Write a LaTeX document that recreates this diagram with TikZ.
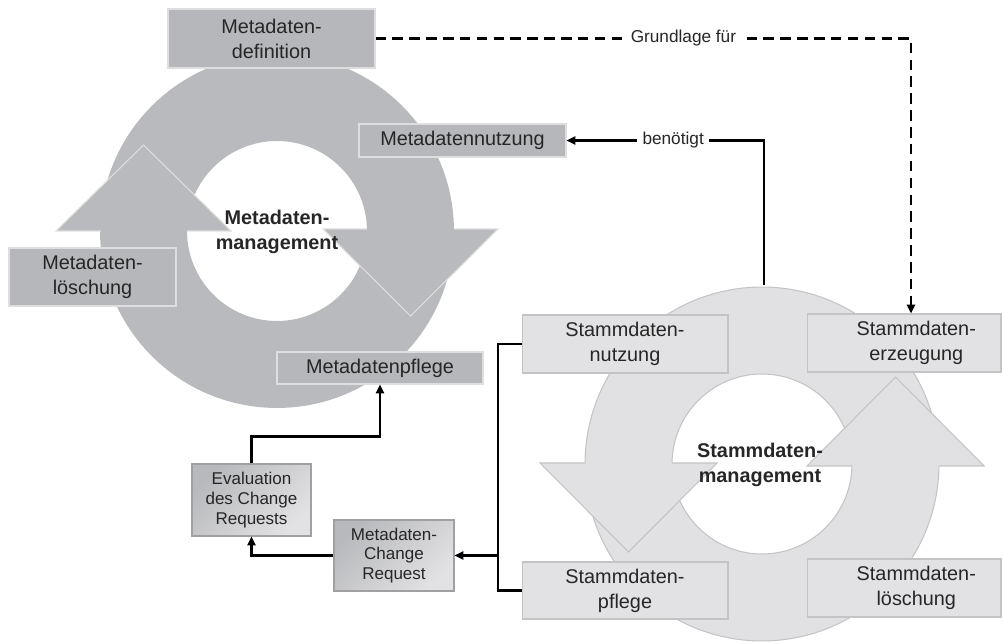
\documentclass[tikz,border=0pt]{standalone}
\usepackage{fontspec}
\setmainfont{Liberation Sans}
\usetikzlibrary{arrows.meta}
\definecolor{ringA}{HTML}{B9BABD}
\definecolor{boxA}{HTML}{B6B7BA}
\definecolor{edgeA}{HTML}{DEDEDF}
\definecolor{ringB}{HTML}{E1E1E3}
\definecolor{edgeB}{HTML}{C4C4C6}
\definecolor{boxB}{HTML}{E2E2E4}
\definecolor{txt}{HTML}{262626}
\definecolor{gradA}{HTML}{B8B9BC}
\definecolor{gradB}{HTML}{E2E2E4}
\definecolor{gradEdge}{HTML}{A0A0A2}
\begin{document}
\begin{tikzpicture}[x=0.02cm,y=-0.02cm,
  every node/.style={text=txt, font=\fontsize{11.3}{14.2}\selectfont, align=center, inner sep=0pt},
  darkbox/.style={fill=boxA, draw=edgeA, line width=0.6pt},
  lightbox/.style={fill=boxB, draw=edgeB, line width=0.6pt},
  shadebox/.style={top color=gradA, bottom color=gradB, shading angle=45, draw=gradEdge, line width=0.6pt, font=\fontsize{9.7}{11.3}\selectfont},
  conn/.style={line width=1.4pt, draw=black},
  tip/.style={-{Triangle[length=5pt,width=4.6pt]}},
  lbl/.style={fill=white, inner xsep=3pt, inner ysep=1.5pt, font=\fontsize{9.8}{12}\selectfont},
  bold/.style={font=\bfseries\fontsize{11.3}{14.2}\selectfont, text=black!85},
]
\useasboundingbox (0,0) rectangle (1003,644);

% ---------- Metadaten cycle ----------
\fill[ringA, even odd rule] (277,231) circle[radius=3.54cm] (277,231) circle[radius=1.8cm];
\fill[ringA] (56,231) -- (143.5,145) -- (231,231) -- cycle;
\draw[edgeA, line width=0.6pt] (101,231) -- (56,231) -- (143.5,145) -- (231,231) -- (187,231);
\fill[ringA] (323,229) -- (410.5,316) -- (498,229) -- cycle;
\draw[edgeA, line width=0.6pt] (367,229) -- (323,229) -- (410.5,316) -- (498,229) -- (454,229);

\node[darkbox, minimum width=4.14cm, minimum height=1.18cm] (mdef) at (271.5,38.5) {Metadaten-\\definition};
\node[darkbox, minimum width=4.14cm, minimum height=0.66cm] (mnutz) at (462.5,140.5) {Metadatennutzung};
\node[darkbox, minimum width=3.34cm, minimum height=1.16cm] (mloe) at (92.5,277) {Metadaten-\\löschung};
\node[darkbox, minimum width=4.12cm, minimum height=0.64cm] (mpfl) at (380,368) {Metadatenpflege};
\node[bold] (mmgmt) at (277,232) {Metadaten-\\management};

% ---------- Stammdaten cycle ----------
\fill[ringB, even odd rule] (762,464) circle[radius=3.54cm] (762,464) circle[radius=1.8cm];
\draw[edgeB, line width=0.6pt] (762,464) circle[radius=3.54cm] (762,464) circle[radius=1.8cm];
\fill[ringB] (540,463) -- (628.5,552) -- (717,463) -- cycle;
\draw[edgeB, line width=0.6pt] (585,463) -- (540,463) -- (628.5,552) -- (717,463) -- (672,463);
\fill[ringB] (807,466) -- (895.5,377) -- (984,466) -- cycle;
\draw[edgeB, line width=0.6pt] (852,466) -- (807,466) -- (895.5,377) -- (984,466) -- (939,466);

\node[lightbox, minimum width=4.12cm, minimum height=1.16cm] (snutz) at (625,344) {Stammdaten-\\nutzung};
\node[lightbox, minimum width=3.88cm, minimum height=1.16cm] (serz) at (904,343) {\hspace*{14pt}Stammdaten-\\\hspace*{14pt}erzeugung};
\node[lightbox, minimum width=4.12cm, minimum height=1.14cm] (spfl) at (625,590.5) {Stammdaten-\\pflege};
\node[lightbox, minimum width=3.88cm, minimum height=1.16cm] (sloe) at (904,588) {\hspace*{14pt}Stammdaten-\\\hspace*{14pt}löschung};
\node[bold] (smgmt) at (760,465) {Stammdaten-\\management};

% ---------- change request boxes ----------
\node[shadebox, minimum width=2.38cm, minimum height=1.44cm] (eval) at (251.5,500) {Evaluation\\des Change\\Requests};
\node[shadebox, minimum width=2.4cm, minimum height=1.42cm] (mcr) at (394,555.5) {Metadaten-\\Change\\Request};

% ---------- connectors ----------
\coordinate (gcorner) at (911,38.5);
\coordinate (stop) at (764,285);
\coordinate (brk) at (498,344);

\draw[conn, dash pattern=on 6pt off 3.6pt, tip] (mdef.east) -- node[lbl, pos=0.575] {Grundlage für} (gcorner) -- (gcorner |- serz.north);
\draw[conn, tip] (stop) |- node[lbl, pos=0.73] {benötigt} (mnutz.east);
\draw[conn] (snutz.west) -- (brk) |- (spfl.west);
\draw[conn, tip] (brk |- mcr.east) -- (mcr.east);
\draw[conn, tip] (mcr.west) -| (eval.south);
\draw[conn, tip] (eval.north) -- ++(0,-27) -| (mpfl.south);
\end{tikzpicture}
\end{document}
